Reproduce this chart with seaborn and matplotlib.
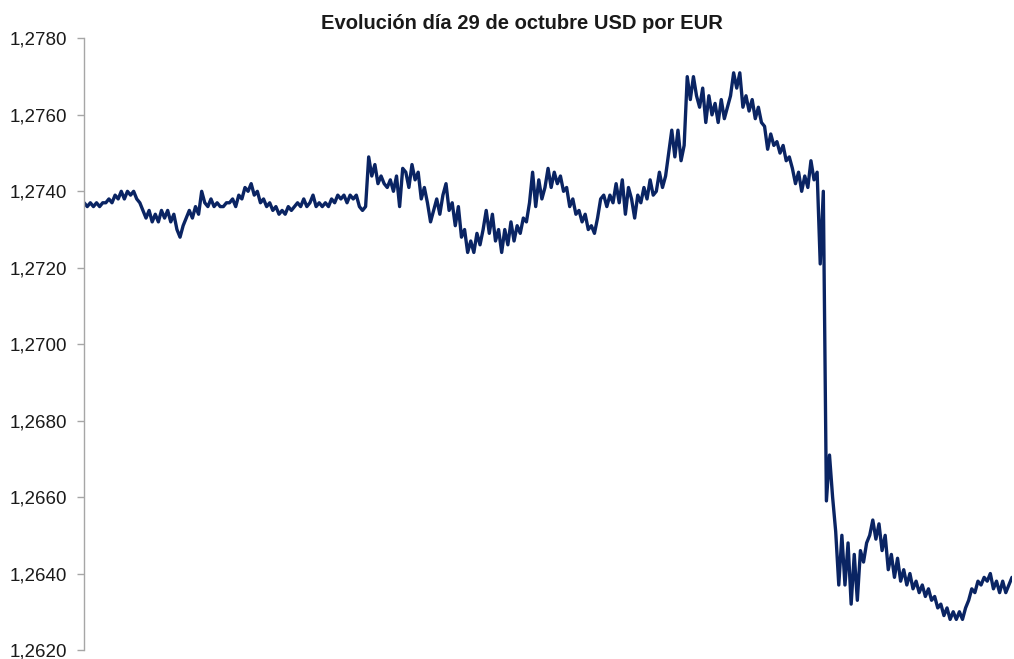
import seaborn as sns
import matplotlib.pyplot as plt
import matplotlib.ticker as mticker
import pandas as pd
import numpy as np

# USD por EUR, 29 de octubre (aprox. por tramos)
tramo_a = [1.2737, 1.2736, 1.2737, 1.2736, 1.2737, 1.2736, 1.2737,
           1.2737, 1.2738, 1.2737, 1.2739, 1.2738, 1.2740, 1.2738,
           1.2740, 1.2739, 1.2740, 1.2738, 1.2737,
           1.2735, 1.2733, 1.2735, 1.2732, 1.2734, 1.2732, 1.2735, 1.2733, 1.2735, 1.2732, 1.2734,
           1.2730, 1.2728,
           1.2731, 1.2733, 1.2735, 1.2733, 1.2736, 1.2734, 1.2740]
tramo_b = [1.2737, 1.2736, 1.2738, 1.2736, 1.2737, 1.2736, 1.2736, 1.2737, 1.2737, 1.2738, 1.2736,
           1.2739, 1.2738, 1.2741, 1.2740, 1.2742, 1.2739, 1.2740,
           1.2737, 1.2738, 1.2736, 1.2737, 1.2735, 1.2736, 1.2734, 1.2735, 1.2734, 1.2736, 1.2735,
           1.2736, 1.2737, 1.2736, 1.2738, 1.2736, 1.2737, 1.2739, 1.2736]
tramo_c = [1.2737, 1.2736, 1.2737, 1.2736, 1.2738, 1.2737, 1.2739, 1.2738,
           1.2739, 1.2737, 1.2739, 1.2738, 1.2739, 1.2736, 1.2735, 1.2736,
           1.2749, 1.2744, 1.2747,
           1.2742, 1.2744, 1.2742, 1.2741, 1.2743, 1.2740, 1.2744,
           1.2736, 1.2746, 1.2745, 1.2741, 1.2747,
           1.2743, 1.2745, 1.2738, 1.2741, 1.2737, 1.2732]
tramo_d = [1.2735, 1.2738, 1.2734, 1.2739, 1.2742,
           1.2735, 1.2737, 1.2731, 1.2736, 1.2728,
           1.2730, 1.2724, 1.2727, 1.2724,
           1.2729, 1.2726, 1.2730, 1.2735, 1.2729, 1.2734, 1.2727, 1.2730,
           1.2724, 1.2730, 1.2726, 1.2732, 1.2727, 1.2731, 1.2729, 1.2733,
           1.2732, 1.2737, 1.2745, 1.2736, 1.2743, 1.2738, 1.2741]
tramo_e = [1.2746, 1.2741, 1.2745, 1.2742, 1.2744, 1.2740, 1.2741,
           1.2736, 1.2738, 1.2734, 1.2735, 1.2732, 1.2734, 1.2730, 1.2731, 1.2729,
           1.2733, 1.2738, 1.2739, 1.2736, 1.2739, 1.2737,
           1.2742, 1.2737, 1.2743, 1.2734, 1.2741, 1.2738, 1.2733,
           1.2739, 1.2737, 1.2741, 1.2738, 1.2743, 1.2739, 1.2740, 1.2745]
tramo_f = [1.2741, 1.2744, 1.2750, 1.2756, 1.2749, 1.2756, 1.2748, 1.2752,
           1.2770, 1.2764, 1.2770,
           1.2765, 1.2762, 1.2767, 1.2758, 1.2765,
           1.2760, 1.2763, 1.2758, 1.2764, 1.2759, 1.2762, 1.2765,
           1.2771, 1.2767, 1.2771,
           1.2762, 1.2765, 1.2761, 1.2764, 1.2759, 1.2762, 1.2758,
           1.2757, 1.2751, 1.2755, 1.2752]
tramo_g = [1.2753, 1.2750, 1.2752, 1.2748, 1.2749, 1.2746,
           1.2742, 1.2745, 1.2740, 1.2744, 1.2741, 1.2748, 1.2743, 1.2745,
           1.2721, 1.2740, 1.2659,
           1.2671, 1.2660, 1.2651, 1.2637, 1.2650, 1.2637, 1.2648, 1.2632, 1.2645,
           1.2633, 1.2646, 1.2643, 1.2648,
           1.2650, 1.2654, 1.2649, 1.2653,
           1.2646, 1.2650, 1.2641, 1.2645, 1.2639, 1.2644,
           1.2638, 1.2641, 1.2637, 1.2640, 1.2636, 1.2638, 1.2635, 1.2637, 1.2634, 1.2636,
           1.2633, 1.2634, 1.2631, 1.2632, 1.2629, 1.2631, 1.2628, 1.2630, 1.2628, 1.2630, 1.2628, 1.2631,
           1.2633, 1.2636, 1.2635, 1.2638, 1.2637, 1.2639, 1.2638, 1.2640,
           1.2636, 1.2638, 1.2635, 1.2638, 1.2635, 1.2637, 1.2639]

cambio = tramo_a + tramo_b + tramo_c + tramo_d + tramo_e + tramo_f + tramo_g
df = pd.DataFrame({'n': np.arange(len(cambio)), 'usd_eur': cambio})

sns.set_style('white')
plt.rcParams['font.family'] = ['Liberation Sans', 'DejaVu Sans']

fig = plt.figure(figsize=(10.14, 6.59), dpi=100)
ax = fig.add_axes([0.083, 0.0137, 0.915, 0.928])

sns.lineplot(data=df, x='n', y='usd_eur', color='#0a2463', linewidth=2.4, ax=ax)

ax.set_xlim(0, len(cambio) - 1)
ax.set_ylim(1.2620, 1.2780)
ax.set_yticks(np.arange(1.2620, 1.27801, 0.0020))
ax.yaxis.set_major_formatter(mticker.FuncFormatter(lambda v, p: f'{v:.4f}'.replace('.', ',')))
ax.set_xticks([])
ax.set_xlabel('')
ax.set_ylabel('')
ax.tick_params(axis='y', left=True, length=5, width=1, color='#a6a6a6', pad=7, labelsize=13.5, labelcolor='#1a1a1a')

for s in ['top', 'right', 'bottom']:
    ax.spines[s].set_visible(False)
ax.spines['left'].set_color('#a6a6a6')
ax.spines['left'].set_linewidth(1)

fig.text(0.515, 0.965, 'Evolución día 29 de octubre USD por EUR', ha='center', va='center',
         fontsize=14.5, fontweight='bold', color='#1a1a1a')

fig.savefig('out.png', dpi=100)
